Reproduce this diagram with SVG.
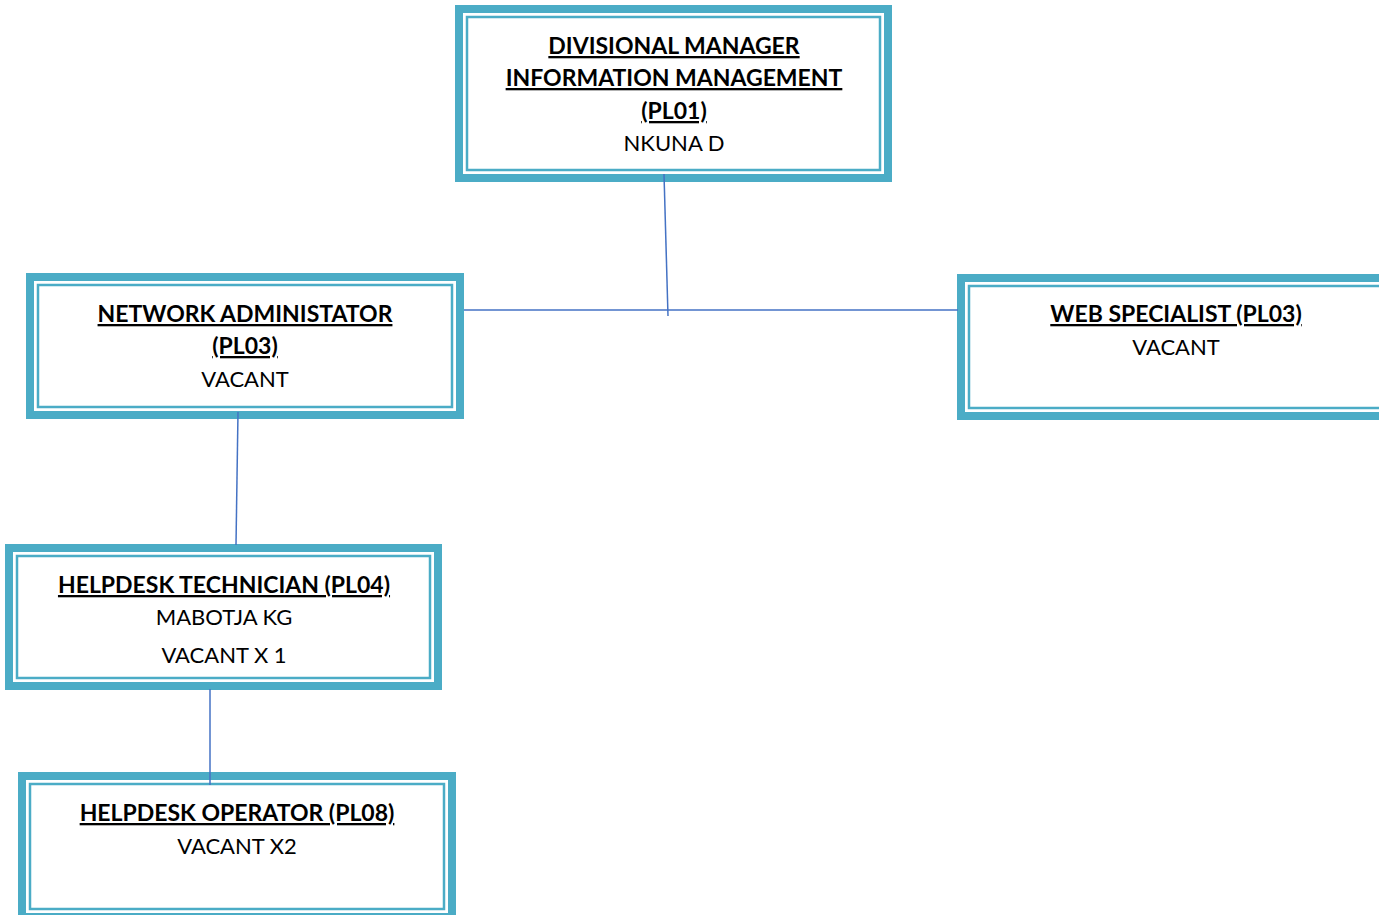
<svg xmlns="http://www.w3.org/2000/svg" width="1379" height="915" viewBox="0 0 1379 915">
<style>
.outer{fill:#fff;stroke:#4BACC6;stroke-width:8}
.inner{fill:none;stroke:#4BACC6;stroke-width:2.5}
.t{font-family:Lato,"Open Sans",sans-serif;font-size:22px;fill:#000;text-anchor:middle}
.b{font-weight:bold;font-size:23px;text-decoration:underline}
.c{stroke:#4472C4;stroke-width:1.5;fill:none}
</style>
<g id="n1">
<rect class="outer" x="459" y="9" width="429" height="169"/>
<rect class="inner" x="467" y="17" width="413" height="153"/>
<text class="t b" x="674" y="54">DIVISIONAL MANAGER</text>
<text class="t b" x="674" y="86">INFORMATION MANAGEMENT</text>
<text class="t b" x="674" y="119">(PL01)</text>
<text class="t" x="674" y="151">NKUNA D</text>
</g>
<g id="n2">
<rect class="outer" x="30" y="277" width="430" height="138"/>
<rect class="inner" x="38" y="285" width="414" height="122"/>
<text class="t b" x="245" y="322">NETWORK ADMINISTATOR</text>
<text class="t b" x="245" y="354">(PL03)</text>
<text class="t" x="245" y="387">VACANT</text>
</g>
<g id="n3">
<rect class="outer" x="961" y="278" width="440" height="138"/>
<rect class="inner" x="969" y="286" width="424" height="122"/>
<text class="t b" x="1176" y="322">WEB SPECIALIST (PL03)</text>
<text class="t" x="1176" y="355">VACANT</text>
</g>
<g id="n4">
<rect class="outer" x="9" y="548" width="429" height="138"/>
<rect class="inner" x="17" y="556" width="413" height="122"/>
<text class="t b" x="224" y="593">HELPDESK TECHNICIAN (PL04)</text>
<text class="t" x="224" y="625">MABOTJA KG</text>
<text class="t" x="224" y="663">VACANT X 1</text>
</g>
<g id="n5">
<rect class="outer" x="22" y="776" width="430" height="141"/>
<rect class="inner" x="30" y="784" width="414" height="125"/>
<text class="t b" x="237" y="821">HELPDESK OPERATOR (PL08)</text>
<text class="t" x="237" y="854">VACANT X2</text>
</g>
<g id="connectors">
<path class="c" d="M664 174 L668 316"/>
<path class="c" d="M464 310 L958 310"/>
<path class="c" d="M238 412 L236 545"/>
<path class="c" d="M210 689 L210 785"/>
</g>
</svg>
